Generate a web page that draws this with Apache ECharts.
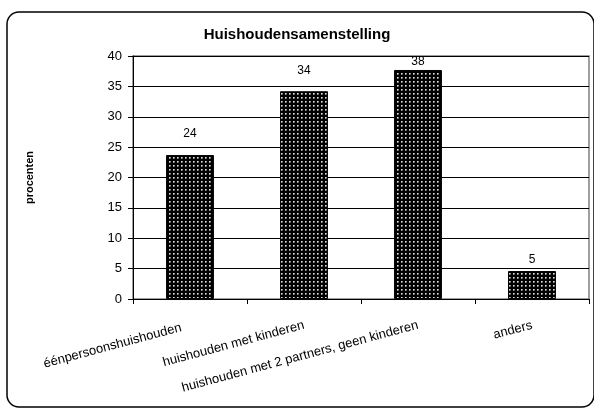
<!DOCTYPE html>
<html>
<head>
<meta charset="utf-8">
<script src="https://cdn.jsdelivr.net/npm/echarts@6/dist/echarts.min.js"></script>
<style>
html,body{margin:0;padding:0;background:#fff;}
#chart{width:594px;height:409px;}
</style>
</head>
<body>
<div id="chart"></div>
<script>
const categories = ['éénpersoonshuishouden', 'huishouden met kinderen', 'huishouden met 2 partners, geen kinderen', 'anders'];
const values = [23.7, 34.2, 37.7, 4.6];
const valueLabels = ['24', '34', '38', '5'];
const yTicks = [0, 5, 10, 15, 20, 25, 30, 35, 40];

const labelGaps = [15, 15, 2, 5];
const catLabelPadding = [[30, 9, 0, 0], [0, 0, 0, 0], [0, 0, 0, 0], [0, 0, 0, 0]];

function makePattern() {
  const c = document.createElement('canvas');
  c.width = 4; c.height = 4;
  const ctx = c.getContext('2d');
  ctx.fillStyle = '#000';
  ctx.fillRect(0, 0, 4, 4);
  ctx.fillStyle = '#e0e0e0'; ctx.fillRect(1, 1, 1, 1);
  ctx.fillStyle = '#909090'; ctx.fillRect(2, 1, 1, 1); ctx.fillRect(1, 2, 1, 1);
  ctx.fillStyle = '#555'; ctx.fillRect(2, 2, 1, 1);
  return c;
}
const pattern = { image: makePattern(), repeat: 'repeat' };

const chart = echarts.init(document.getElementById('chart'), null, { renderer: 'canvas' });
const font = 'Liberation Sans, Arial, sans-serif';
chart.setOption({
  backgroundColor: '#fff',
  animation: false,
  title: {
    text: 'Huishoudensamenstelling',
    left: 'center',
    top: 22,
    textStyle: { fontFamily: font, fontSize: 15, fontWeight: 'bold', color: '#000' }
  },
  graphic: [{
    type: 'rect',
    shape: { x: 7, y: 12, width: 587, height: 395, r: 12 },
    style: { fill: 'none', stroke: '#000', lineWidth: 1.5 },
    silent: true, z: 100
  }],
  grid: {
    left: 133, right: 5, top: 56, bottom: 110,
    show: true, borderColor: '#808080', borderWidth: 1.5, backgroundColor: '#fff'
  },
  xAxis: {
    type: 'category',
    data: categories.map((c, i) => ({ value: c, textStyle: { padding: catLabelPadding[i] } })),
    axisLine: { lineStyle: { color: '#000', width: 1 } },
    axisTick: { show: true, length: 5, lineStyle: { color: '#000' } },
    axisLabel: {
      interval: 0, rotate: 15, margin: 26,
      fontFamily: font, fontSize: 13, color: '#000'
    }
  },
  yAxis: {
    type: 'value',
    min: yTicks[0], max: yTicks[yTicks.length - 1], interval: yTicks[1] - yTicks[0],
    name: 'procenten',
    nameLocation: 'middle',
    nameGap: 98,
    nameTextStyle: { fontFamily: font, fontSize: 11, fontWeight: 'bold', color: '#000' },
    axisLine: { show: true, lineStyle: { color: '#000', width: 1 } },
    axisTick: { show: true, length: 5, lineStyle: { color: '#000' } },
    axisLabel: { margin: 11, fontFamily: font, fontSize: 13, color: '#000' },
    splitLine: { show: true, lineStyle: { color: '#000', width: 1 } }
  },
  series: [{
    type: 'bar',
    barWidth: '42%',
    data: values.map((v, i) => ({
      value: v,
      label: { distance: labelGaps[i], formatter: valueLabels[i] }
    })),
    itemStyle: { color: pattern, borderColor: '#000', borderWidth: 1 },
    label: {
      show: true, position: 'top',
      fontFamily: font, fontSize: 12, color: '#000'
    }
  }]
});
</script>
</body>
</html>
